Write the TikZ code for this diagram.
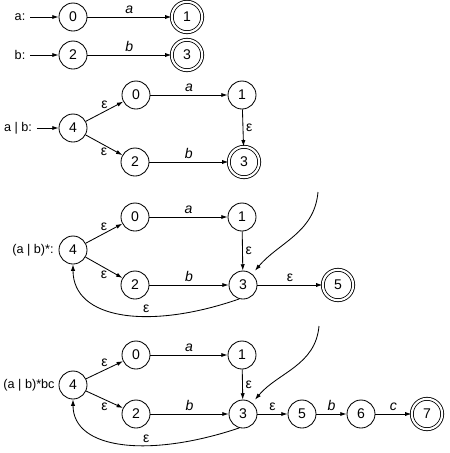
\documentclass[tikz,border=0pt]{standalone}
\usepackage{fontspec}
\setmainfont{Liberation Sans}
\usetikzlibrary{arrows.meta}
\tikzset{
  st/.style={
    circle,
    draw=black,
    line width=0.6pt,
    minimum size=7mm,
    inner sep=0pt
  },
  st-final/.style={
    st,
    minimum size=7.6mm,
    double,
    double distance=1.5pt
  },
  row-txt/.style={font=\fontsize{9}{11}\selectfont},
  arc/.style={-{Latex[length=4.5pt,width=3pt]}, line width=0.6pt},
  sym/.style={above, inner sep=2pt, font=\itshape},
  eps/.style={inner sep=2pt}
}

\begin{document}
\begin{tikzpicture}[x=0.25mm, y=-0.25mm]
  \useasboundingbox (0,0) rectangle (450,453);
  % a
  \node[row-txt] (a-txt) at (20,17) {a:};
  \node[st] (a-0) at (73,17) {0};
  \node[st-final] (a-1) at (187,17) {1};
  \draw[arc] (a-txt) -- (a-0);
  \draw[arc] (a-0) -- node[sym] {a} (a-1);
  % b
  \node[row-txt] (b-txt) at (20,55) {b:};
  \node[st] (b-2) at (73,55) {2};
  \node[st-final] (b-3) at (187,55) {3};
  \draw[arc] (b-txt) -- (b-2);
  \draw[arc] (b-2) -- node[sym] {b} (b-3);
  % a | b
  \node[row-txt] (alt-txt) at (18,128) {a | b:};
  \node[st] (alt-4) at (73,128) {4};
  \node[st] (alt-0) at (136,95) {0};
  \node[st] (alt-1) at (242,95) {1};
  \node[st] (alt-2) at (135,162) {2};
  \node[st-final] (alt-3) at (244,162) {3};
  \draw[arc] (alt-txt) -- (alt-4);
  \draw[arc] (alt-4) -- node[eps, above] {ε} (alt-0);
  \draw[arc] (alt-4) -- node[eps, below] {ε} (alt-2);
  \draw[arc] (alt-0) -- node[sym] {a} (alt-1);
  \draw[arc] (alt-2) -- node[sym] {b} (alt-3);
  \draw[arc] (alt-1) -- node[eps, right] {ε} (alt-3);
  % (a | b)*
  \node[row-txt] (star-txt) at (33,250) {(a | b)*:};
  \node[st] (star-4) at (73,250) {4};
  \node[st] (star-0) at (135,217) {0};
  \node[st] (star-1) at (242,217) {1};
  \node[st] (star-2) at (135,285) {2};
  \node[st] (star-3) at (243,285) {3};
  \node[st-final] (star-5) at (338,285) {5};
  \coordinate (star-top) at (318,192);
  \draw[arc] (star-4) -- node[eps, above] {ε} (star-0);
  \draw[arc] (star-4) -- node[eps, below] {ε} (star-2);
  \draw[arc] (star-0) -- node[sym] {a} (star-1);
  \draw[arc] (star-2) -- node[sym] {b} (star-3);
  \draw[arc] (star-1) -- node[eps, right] {ε} (star-3);
  \draw[arc] (star-3) -- node[eps, above] {ε} (star-5);
  \draw[arc, shorten >=3pt] (star-top) to[out=-95, in=50] (star-3);
  \draw[arc] (star-3.255) .. controls (150,330) and (73,320) .. node[eps, above, pos=0.38] {ε} (star-4.south);
  % (a | b)*bc
  \node[row-txt] (cat-txt) at (29,385) {(a | b)*bc};
  \node[st] (cat-4) at (73,385) {4};
  \node[st] (cat-0) at (136,355) {0};
  \node[st] (cat-1) at (242,355) {1};
  \node[st] (cat-2) at (136,414) {2};
  \node[st] (cat-3) at (243,414) {3};
  \node[st] (cat-5) at (302,414) {5};
  \node[st] (cat-6) at (361,414) {6};
  \node[st-final] (cat-7) at (427,414) {7};
  \coordinate (cat-top) at (319,326);
  \draw[arc] (cat-4) -- node[eps, above] {ε} (cat-0);
  \draw[arc] (cat-4) -- node[eps, below] {ε} (cat-2);
  \draw[arc] (cat-0) -- node[sym] {a} (cat-1);
  \draw[arc] (cat-2) -- node[sym] {b} (cat-3);
  \draw[arc] (cat-1) -- node[eps, right] {ε} (cat-3);
  \draw[arc] (cat-3) -- node[eps, above] {ε} (cat-5);
  \draw[arc] (cat-5) -- node[sym] {b} (cat-6);
  \draw[arc] (cat-6) -- node[sym] {c} (cat-7);
  \draw[arc, shorten >=3pt] (cat-top) to[out=-95, in=50] (cat-3);
  \draw[arc] (cat-3.255) .. controls (150,458) and (73,450) .. node[eps, above, pos=0.38] {ε} (cat-4.south);
\end{tikzpicture}
\end{document}
